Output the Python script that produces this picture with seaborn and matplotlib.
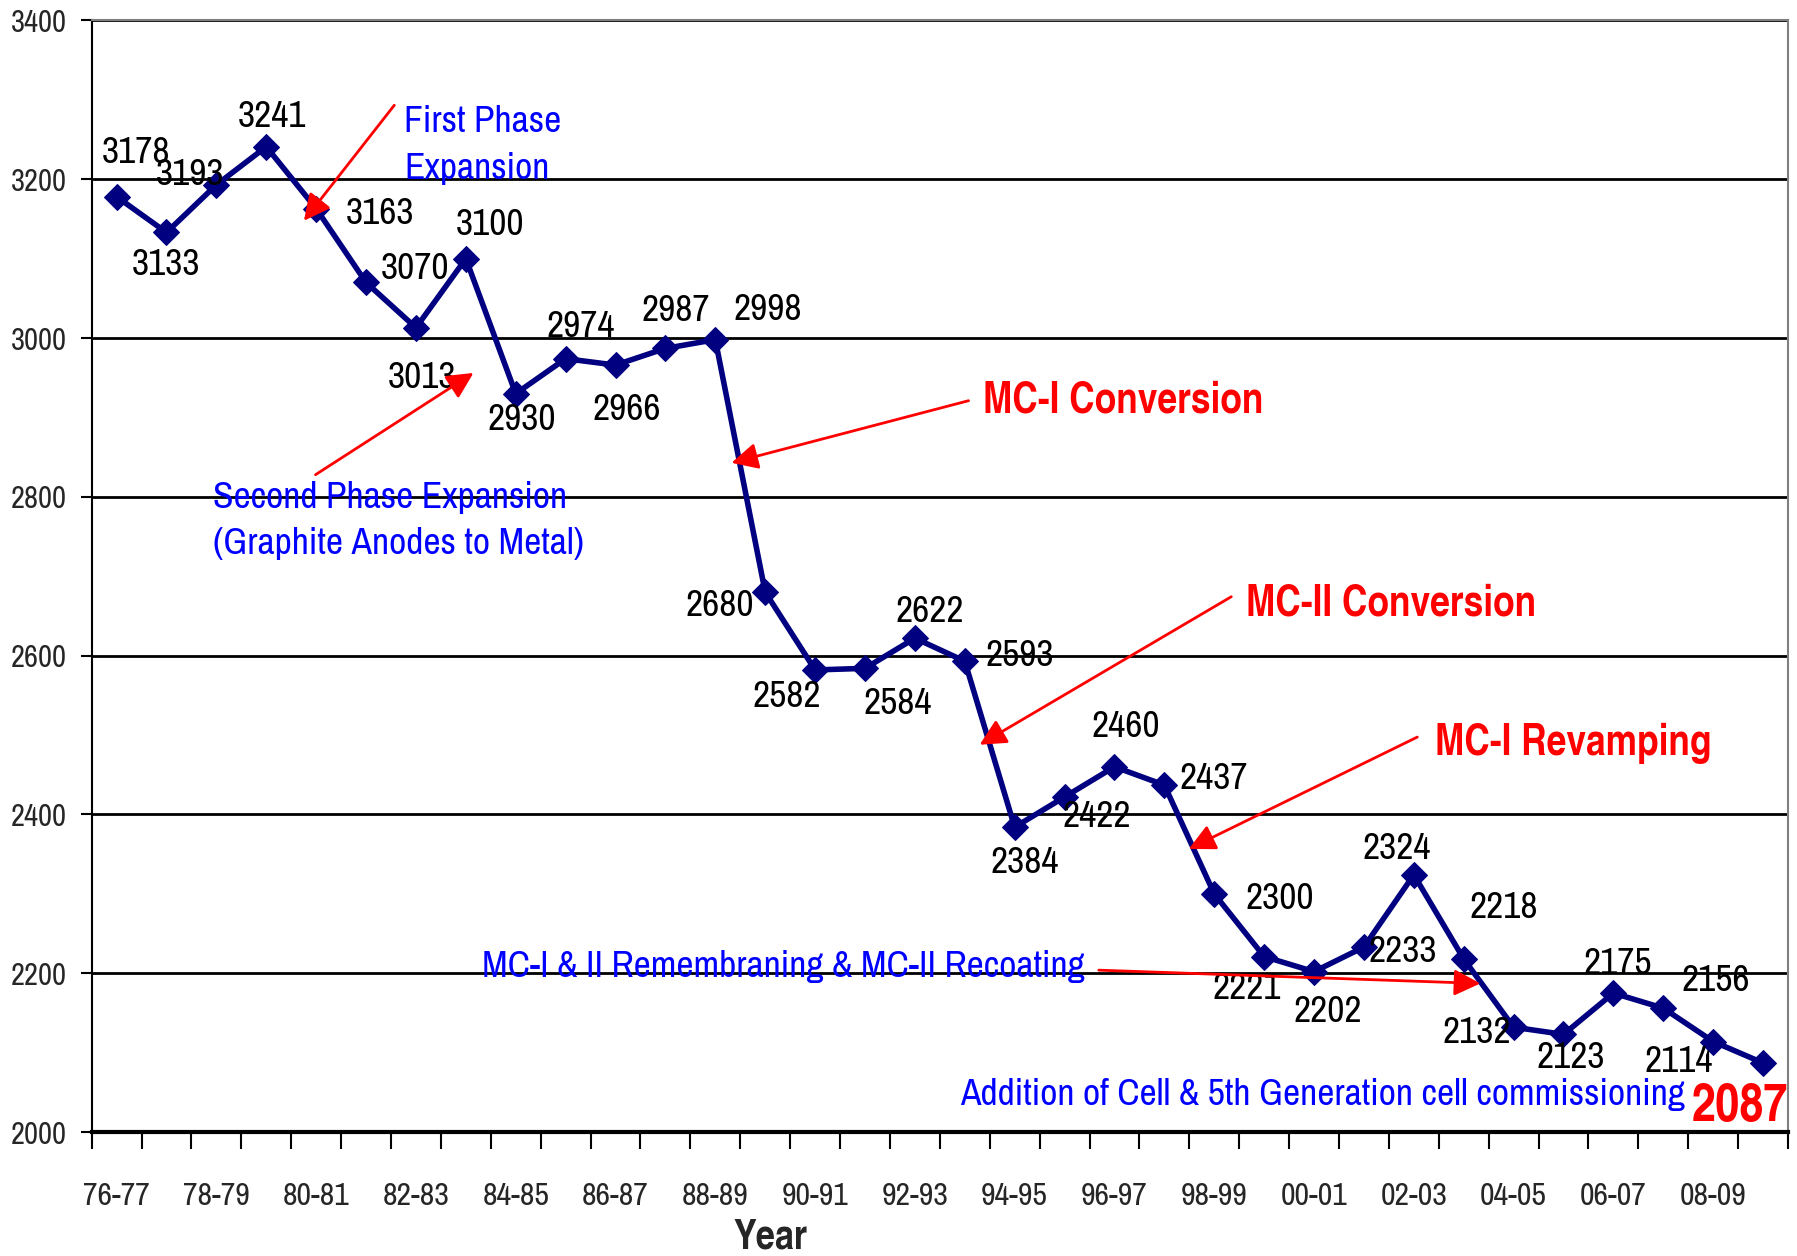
import numpy as np
import matplotlib
matplotlib.use("Agg")
import matplotlib.pyplot as plt
from matplotlib import font_manager as fm
from matplotlib.textpath import TextToPath
import seaborn as sns

# data
years = ["76-77", "77-78", "78-79", "79-80", "80-81", "81-82", "82-83", "83-84",
         "84-85", "85-86", "86-87", "87-88", "88-89", "89-90", "90-91", "91-92",
         "92-93", "93-94", "94-95", "95-96", "96-97", "97-98", "98-99", "99-00",
         "00-01", "01-02", "02-03", "03-04", "04-05", "05-06", "06-07", "07-08",
         "08-09", "09-10"]
values = [3178, 3133, 3193, 3241, 3163, 3070, 3013, 3100, 2930, 2974, 2966, 2987,
          2998, 2680, 2582, 2584, 2622, 2593, 2384, 2422, 2460, 2437, 2300, 2221,
          2202, 2233, 2324, 2218, 2132, 2123, 2175, 2156, 2114, 2087]
tick_years = years[::2]
y_ticks = [2000, 2200, 2400, 2600, 2800, 3000, 3200, 3400]

# label offsets (pixels, right / down) from each point
label_offsets = [(17, -39), (0, 28), (-23, -9), (5, -26), (56, 4), (43, -12), (5, 43),
                 (21, -30), (5, 23), (13, -28), (10, 39), (9, -33), (46, -26), (-40, 12),
                 (-25, 23), (29, 31), (13, -23), (48, -5), (9, 31), (28, 17), (10, -35),
                 (43, -6), (57, 4), (-15, 28), (12, 35), (34, 4), (-15, -23), (35, -45),
                 (-32, 5), (6, 20), (4, -26), (46, -24), (-30, 17), (-20, 39)]

sns.set_theme(style="white")
plt.rcParams["font.family"] = ["Liberation Sans", "DejaVu Sans"]

# --- pick the installed sans face closest to Arial Narrow (digits ~0.456 em wide)
TARGET = 0.456
skip = ("CJK", "Mono", "Serif", "Math", "Symbol", "Emoji", "Display")
t2p = TextToPath()


def is_bold(f):
    w = f.weight
    if isinstance(w, str):
        return w.lower() in ("bold", "semibold", "demibold", "heavy", "black", "extra bold")
    return w >= 600


def digit_width(f):
    try:
        p = fm.FontProperties(fname=f.fname, size=100)
        w, _, _ = t2p.get_text_width_height_descent("0123456789", p, ismath=False)
        return w / 1000.0
    except Exception:
        return 9.9


def best_font(bold):
    best, best_w = None, None
    for f in fm.fontManager.ttflist:
        if any(k in f.name for k in skip) or f.style != "normal" or is_bold(f) != bold:
            continue
        if bold and not isinstance(f.weight, str) and f.weight > 750:
            continue
        dw = digit_width(f)
        if best is None or abs(dw - TARGET) < abs(best_w - TARGET):
            best, best_w = f, dw
    return best, best_w


reg_f, reg_w = best_font(False)
bld_f, bld_w = best_font(True)
reg = fm.FontProperties(fname=reg_f.fname)
bld = fm.FontProperties(fname=bld_f.fname)
reg_k = float(np.clip(TARGET / reg_w, 0.75, 1.05))
bld_k = float(np.clip(TARGET / bld_w, 0.75, 1.05))


def fp(size, bold=False):
    p = (bld if bold else reg).copy()
    p.set_size(size * (bld_k if bold else reg_k))
    return p


fig = plt.figure(figsize=(17.97, 12.56), dpi=100)
ax = fig.add_axes([0.051, 0.0987, 0.944, 0.885])

x = np.arange(len(values))
sns.lineplot(x=x, y=values, ax=ax, color="#000080", lw=4, marker="D",
             markersize=13, markeredgecolor="#000080")

ax.set_xlim(-0.5, len(values) - 0.5)
ax.set_ylim(2000, 3400)
ax.set_yticks(y_ticks)
ax.yaxis.grid(True, color="black", lw=2)
ax.set_axisbelow(True)

ax.set_xticks(x[::2])
ax.set_xticklabels(tick_years)
ax.set_xticks(np.arange(-0.5, len(values), 1), minor=True)
ax.tick_params(axis="x", which="major", length=0, pad=36)
ax.tick_params(axis="x", which="minor", bottom=True, direction="out", length=12,
               width=1.5, color="black")
ax.tick_params(axis="y", left=True, direction="out", length=8, width=1.5,
               color="black", pad=10)
for t in ax.get_xticklabels():
    t.set_fontproperties(fp(23))
for t in ax.get_yticklabels():
    t.set_fontproperties(fp(22))

for side in ["top", "right"]:
    ax.spines[side].set_color("#808080")
    ax.spines[side].set_linewidth(1.5)
ax.spines["left"].set_color("black")
ax.spines["left"].set_linewidth(1.5)
ax.spines["bottom"].set_color("black")
ax.spines["bottom"].set_linewidth(3)

ax.set_xlabel("Year", fontproperties=fp(30, True))
ax.xaxis.set_label_coords(0.40, -0.095)
ax.xaxis.label.set_va("center")
ax.set_ylabel("")

# data labels
s = 1.146
for i, (v, (dx, dy)) in enumerate(zip(values, label_offsets)):
    last = i == len(values) - 1
    ax.annotate(str(v), (i, v), xytext=(dx * s, -dy * s), textcoords="offset pixels",
                ha="center", va="center",
                fontproperties=fp(38, True) if last else fp(27),
                color="red" if last else "black")

arrow = dict(arrowstyle="-|>", color="red", lw=2, mutation_scale=40)
blue = "#0000FF"

ax.text(5.76, 3243, "First Phase\nExpansion", color=blue, fontproperties=fp(27),
        ha="left", va="center", linespacing=1.5)
ax.annotate("", xy=(3.72, 3145), xytext=(5.60, 3296), arrowprops=arrow)

ax.text(1.93, 2770, "Second Phase Expansion\n(Graphite Anodes to Metal)", color=blue,
        fontproperties=fp(27), ha="left", va="center", linespacing=1.5)
ax.annotate("", xy=(7.20, 2958), xytext=(3.94, 2826), arrowprops=arrow)

ax.text(17.36, 2921, "MC-I Conversion", color="red", fontproperties=fp(31, True),
        ha="left", va="center")
ax.annotate("", xy=(12.27, 2842), xytext=(17.13, 2922), arrowprops=arrow)

ax.text(22.64, 2665, "MC-II Conversion", color="red", fontproperties=fp(31, True),
        ha="left", va="center")
ax.annotate("", xy=(17.25, 2486), xytext=(22.39, 2676), arrowprops=arrow)

ax.text(26.42, 2489, "MC-I Revamping", color="red", fontproperties=fp(31, True),
        ha="left", va="center")
ax.annotate("", xy=(21.44, 2355), xytext=(26.12, 2499), arrowprops=arrow)

ax.text(7.32, 2209, "MC-I & II Remembraning & MC-II Recoating", color=blue,
        fontproperties=fp(27), ha="left", va="center")
ax.annotate("", xy=(27.39, 2187), xytext=(19.63, 2204), arrowprops=arrow)

ax.text(16.90, 2047, "Addition of Cell & 5th Generation cell commissioning", color=blue,
        fontproperties=fp(27), ha="left", va="center")

fig.savefig("out.png", dpi=100)
